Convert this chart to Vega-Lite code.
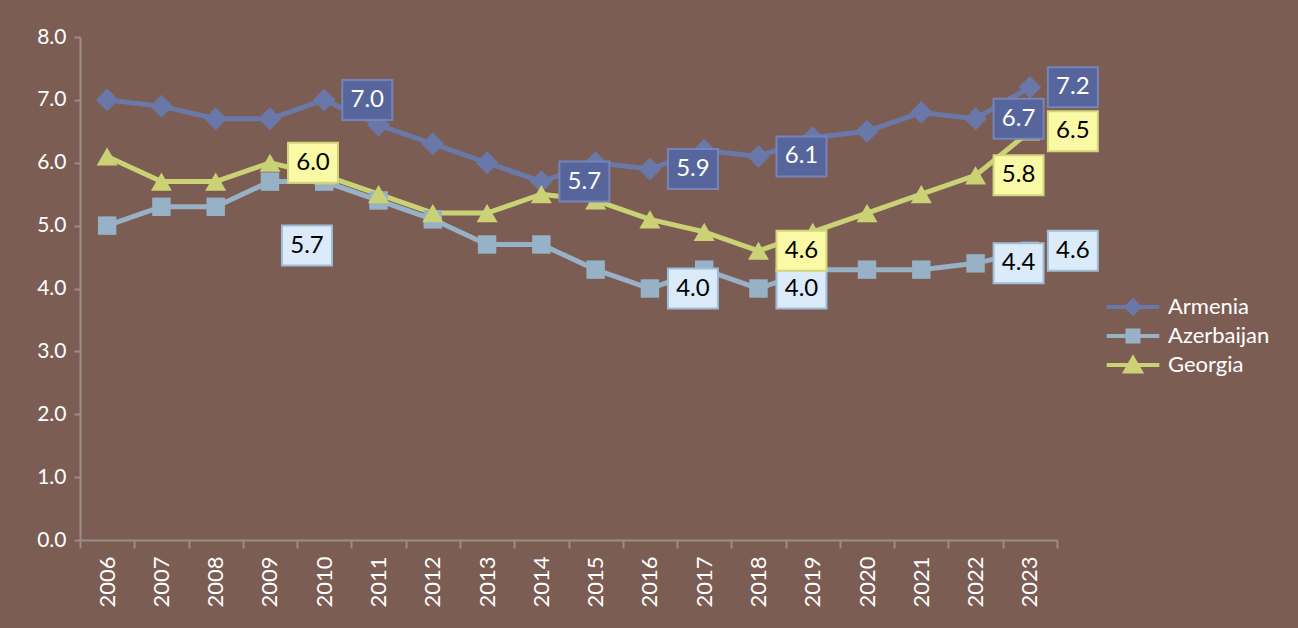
{
  "$schema": "https://vega.github.io/schema/vega-lite/v6.json",
  "width": 977,
  "height": 503,
  "autosize": "none",
  "padding": {"left": 80, "top": 37, "right": 241, "bottom": 88},
  "background": "#7c5d53",
  "config": {"view": {"stroke": null}, "font": "Lato"},
  "data": {"values": [
    {"year": "2006", "country": "Armenia", "value": 7.0, "label": false},
    {"year": "2007", "country": "Armenia", "value": 6.9, "label": false},
    {"year": "2008", "country": "Armenia", "value": 6.7, "label": false},
    {"year": "2009", "country": "Armenia", "value": 6.7, "label": false},
    {"year": "2010", "country": "Armenia", "value": 7.0, "label": true},
    {"year": "2011", "country": "Armenia", "value": 6.6, "label": false},
    {"year": "2012", "country": "Armenia", "value": 6.3, "label": false},
    {"year": "2013", "country": "Armenia", "value": 6.0, "label": false},
    {"year": "2014", "country": "Armenia", "value": 5.7, "label": true},
    {"year": "2015", "country": "Armenia", "value": 6.0, "label": false},
    {"year": "2016", "country": "Armenia", "value": 5.9, "label": true},
    {"year": "2017", "country": "Armenia", "value": 6.2, "label": false},
    {"year": "2018", "country": "Armenia", "value": 6.1, "label": true},
    {"year": "2019", "country": "Armenia", "value": 6.4, "label": false},
    {"year": "2020", "country": "Armenia", "value": 6.5, "label": false},
    {"year": "2021", "country": "Armenia", "value": 6.8, "label": false},
    {"year": "2022", "country": "Armenia", "value": 6.7, "label": true},
    {"year": "2023", "country": "Armenia", "value": 7.2, "label": true},
    {"year": "2006", "country": "Azerbaijan", "value": 5.0, "label": false},
    {"year": "2007", "country": "Azerbaijan", "value": 5.3, "label": false},
    {"year": "2008", "country": "Azerbaijan", "value": 5.3, "label": false},
    {"year": "2009", "country": "Azerbaijan", "value": 5.7, "label": true},
    {"year": "2010", "country": "Azerbaijan", "value": 5.7, "label": false},
    {"year": "2011", "country": "Azerbaijan", "value": 5.4, "label": false},
    {"year": "2012", "country": "Azerbaijan", "value": 5.1, "label": false},
    {"year": "2013", "country": "Azerbaijan", "value": 4.7, "label": false},
    {"year": "2014", "country": "Azerbaijan", "value": 4.7, "label": false},
    {"year": "2015", "country": "Azerbaijan", "value": 4.3, "label": false},
    {"year": "2016", "country": "Azerbaijan", "value": 4.0, "label": true},
    {"year": "2017", "country": "Azerbaijan", "value": 4.3, "label": false},
    {"year": "2018", "country": "Azerbaijan", "value": 4.0, "label": true},
    {"year": "2019", "country": "Azerbaijan", "value": 4.3, "label": false},
    {"year": "2020", "country": "Azerbaijan", "value": 4.3, "label": false},
    {"year": "2021", "country": "Azerbaijan", "value": 4.3, "label": false},
    {"year": "2022", "country": "Azerbaijan", "value": 4.4, "label": true},
    {"year": "2023", "country": "Azerbaijan", "value": 4.6, "label": true},
    {"year": "2006", "country": "Georgia", "value": 6.1, "label": false},
    {"year": "2007", "country": "Georgia", "value": 5.7, "label": false},
    {"year": "2008", "country": "Georgia", "value": 5.7, "label": false},
    {"year": "2009", "country": "Georgia", "value": 6.0, "label": true},
    {"year": "2010", "country": "Georgia", "value": 5.8, "label": false},
    {"year": "2011", "country": "Georgia", "value": 5.5, "label": false},
    {"year": "2012", "country": "Georgia", "value": 5.2, "label": false},
    {"year": "2013", "country": "Georgia", "value": 5.2, "label": false},
    {"year": "2014", "country": "Georgia", "value": 5.5, "label": false},
    {"year": "2015", "country": "Georgia", "value": 5.4, "label": false},
    {"year": "2016", "country": "Georgia", "value": 5.1, "label": false},
    {"year": "2017", "country": "Georgia", "value": 4.9, "label": false},
    {"year": "2018", "country": "Georgia", "value": 4.6, "label": true},
    {"year": "2019", "country": "Georgia", "value": 4.9, "label": false},
    {"year": "2020", "country": "Georgia", "value": 5.2, "label": false},
    {"year": "2021", "country": "Georgia", "value": 5.5, "label": false},
    {"year": "2022", "country": "Georgia", "value": 5.8, "label": true},
    {"year": "2023", "country": "Georgia", "value": 6.5, "label": true}
  ]},
  "encoding": {
    "x": {
      "field": "year", "type": "ordinal",
      "scale": {"type": "band", "paddingInner": 0, "paddingOuter": 0},
      "axis": {"title": null, "labelAngle": -90, "labelFontSize": 22, "labelColor": "white", "tickBand": "extent", "tickSize": 8, "tickColor": "#9c8d89", "domainColor": "#9c8d89", "domainWidth": 2, "tickWidth": 2, "labelPadding": 8}
    },
    "y": {
      "field": "value", "type": "quantitative",
      "scale": {"domain": [0, 8]},
      "axis": {"title": null, "grid": false, "tickCount": 8, "format": ".1f", "labelFontSize": 21, "labelColor": "white", "tickSize": 6, "tickColor": "#9c8d89", "domainColor": "#9c8d89", "domainWidth": 2, "tickWidth": 2, "labelPadding": 8}
    },
    "color": {"field": "country", "type": "nominal",
      "scale": {"domain": ["Armenia", "Azerbaijan", "Georgia"], "range": ["#6a77a9", "#97b1c7", "#cbd276"]},
      "legend": {
        "orient": "none", "legendX": 1042, "legendY": 259, "title": null,
        "labelFontSize": 22, "labelColor": "white", "symbolSize": 100, "symbolStrokeWidth": 4,
        "rowPadding": 0, "labelOffset": 24,
        "encode": {"symbols": {"update": {
          "shape": {"signal": "datum.value === 'Armenia' ? 'M-3.1,0H3.1M0,-0.75L0.75,0L0,0.75L-0.75,0Z' : datum.value === 'Azerbaijan' ? 'M-3.1,0H3.1M-0.65,-0.65H0.65V0.65H-0.65Z' : 'M-3.1,0H3.1M0,-0.8L0.9,0.75H-0.9Z'"},
          "size": {"value": 289},
          "fill": {"scale": "color", "field": "value"},
          "stroke": {"scale": "color", "field": "value"},
          "strokeWidth": {"value": 4},
          "fillOpacity": {"value": 1},
          "opacity": {"value": 1}
        }}}
      }
    }
  },
  "layer": [
    {
      "mark": {"type": "line", "strokeWidth": 5}
    },
    {
      "transform": [{"filter": "datum.country === 'Armenia'"}],
      "mark": {"type": "point", "filled": true, "opacity": 1, "shape": "diamond", "size": 520}
    },
    {
      "transform": [{"filter": "datum.country === 'Azerbaijan'"}],
      "mark": {"type": "point", "filled": true, "opacity": 1, "shape": "square", "size": 340}
    },
    {
      "transform": [{"filter": "datum.country === 'Georgia'"}],
      "mark": {"type": "point", "filled": true, "opacity": 1, "shape": "triangle-up", "size": 440}
    },
    {
      "transform": [{"filter": "datum.label && !(datum.country === 'Azerbaijan' && datum.year === '2009')"}],
      "mark": {"type": "point", "shape": "M-1.25,-1H1.25V1H-1.25Z", "size": 1600, "filled": true, "opacity": 1, "xOffset": 43, "strokeWidth": 2, "strokeOpacity": 1},
      "encoding": {
        "color": null,
        "fill": {"field": "country", "type": "nominal", "scale": {"domain": ["Armenia", "Azerbaijan", "Georgia"], "range": ["#56659b", "#dcebfa", "#fafaa6"]}, "legend": null},
        "stroke": {"field": "country", "type": "nominal", "scale": {"domain": ["Armenia", "Azerbaijan", "Georgia"], "range": ["#7584bb", "#9fbdd6", "#d3d57a"]}, "legend": null}
      }
    },
    {
      "transform": [{"filter": "datum.label && !(datum.country === 'Azerbaijan' && datum.year === '2009')"}],
      "mark": {"type": "text", "xOffset": 43, "fontSize": 24, "align": "center", "baseline": "middle"},
      "encoding": {
        "text": {"field": "value", "format": ".1f"},
        "color": {"condition": {"test": "datum.country === 'Armenia'", "value": "white"}, "value": "black"}
      }
    },
    {
      "transform": [{"filter": "datum.country === 'Azerbaijan' && datum.year === '2009'"}],
      "mark": {"type": "point", "shape": "M-1.25,-1H1.25V1H-1.25Z", "size": 1600, "filled": true, "opacity": 1, "xOffset": 37, "yOffset": 64, "fill": "#dcebfa", "stroke": "#9fbdd6", "strokeWidth": 2, "strokeOpacity": 1},
      "encoding": {"color": null}
    },
    {
      "transform": [{"filter": "datum.country === 'Azerbaijan' && datum.year === '2009'"}],
      "mark": {"type": "text", "xOffset": 37, "yOffset": 64, "fontSize": 24, "align": "center", "baseline": "middle"},
      "encoding": {
        "text": {"field": "value", "format": ".1f"},
        "color": {"value": "black"}
      }
    }
  ]
}
